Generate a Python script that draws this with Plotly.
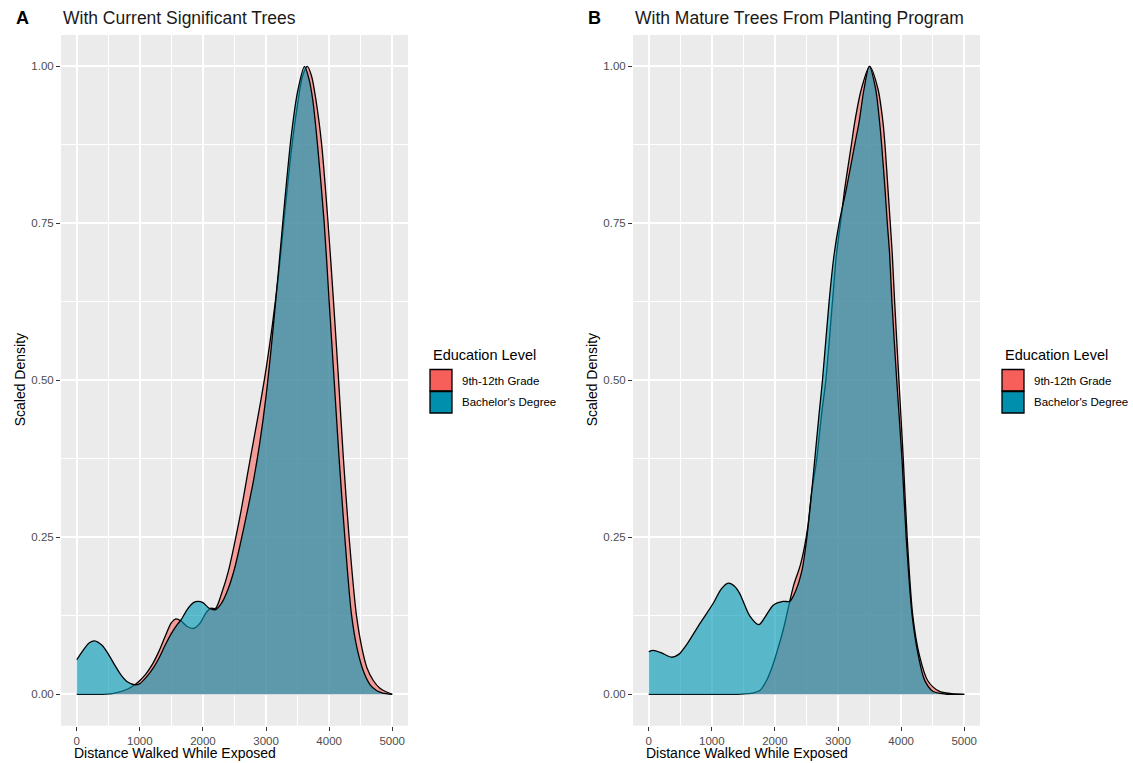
import plotly.graph_objects as go

# ---------------- data ----------------
GROUPS = ["9th-12th Grade", "Bachelor's Degree"]
X_TICKS = [0, 1000, 2000, 3000, 4000, 5000]
Y_TICKS = [0.0, 0.25, 0.5, 0.75, 1.0]

# Panel A: With Current Significant Trees
A_red_x = [0, 200, 400, 600, 800, 930, 1000, 1100, 1200, 1300, 1400, 1500, 1570, 1650, 1750,
           1850, 1950, 2050, 2120, 2200, 2300, 2400, 2500, 2600, 2700, 2800, 2900, 3000,
           3100, 3200, 3300, 3400, 3500, 3580, 3655, 3720, 3790, 3880, 3980, 4070, 4150,
           4225, 4315, 4430, 4525, 4600, 4700, 4800, 4900, 5000]
A_red_y = [0.0, 0.0, 0.0, 0.002, 0.008, 0.016, 0.022, 0.033, 0.048, 0.068, 0.092, 0.114, 0.12,
           0.117, 0.108, 0.105, 0.113, 0.13, 0.137, 0.137, 0.162, 0.195, 0.24, 0.29, 0.347,
           0.403, 0.458, 0.518, 0.588, 0.67, 0.77, 0.865, 0.94, 0.985, 1.0, 0.985, 0.947,
           0.877, 0.755, 0.625, 0.50, 0.377, 0.252, 0.128, 0.071, 0.042, 0.022, 0.01, 0.004, 0.0]
A_blue_x = [0, 100, 200, 280, 400, 500, 600, 700, 800, 930, 1000, 1100, 1200, 1300, 1400,
            1500, 1600, 1656, 1750, 1850, 1920, 2000, 2100, 2200, 2300, 2400, 2500, 2600,
            2700, 2800, 2900, 3000, 3100, 3200, 3300, 3400, 3500, 3610, 3680, 3740, 3816,
            3921, 4000, 4079, 4158, 4247, 4353, 4447, 4550, 4650, 4750, 4850, 5000]
A_blue_y = [0.055, 0.07, 0.082, 0.085, 0.078, 0.064, 0.047, 0.031, 0.02, 0.015, 0.017, 0.027,
            0.04, 0.057, 0.078, 0.097, 0.112, 0.119, 0.135, 0.146, 0.148, 0.146, 0.137, 0.135,
            0.146, 0.168, 0.2, 0.243, 0.29, 0.34, 0.40, 0.475, 0.57, 0.678, 0.79, 0.89,
            0.96, 1.0, 0.98, 0.947, 0.875, 0.752, 0.626, 0.501, 0.376, 0.252, 0.128, 0.071,
            0.035, 0.015, 0.006, 0.002, 0.0]

# Panel B: With Mature Trees From Planting Program
B_red_x = [0, 500, 1000, 1400, 1550, 1650, 1760, 1866, 1950, 2024, 2129, 2235, 2300, 2400,
           2470, 2525, 2580, 2660, 2740, 2806, 2911, 2974, 3038, 3106, 3211, 3264, 3370,
           3501, 3633, 3712, 3744, 3791, 3828, 3860, 3897, 3965, 4035, 4096, 4185, 4290,
           4420, 4600, 4800, 5000]
B_red_y = [0.0, 0.0, 0.0, 0.0, 0.001, 0.002, 0.006, 0.022, 0.042, 0.065, 0.102, 0.148, 0.175,
           0.205, 0.236, 0.27, 0.32, 0.373, 0.447, 0.5, 0.625, 0.70, 0.75, 0.805, 0.875,
           0.911, 0.964, 1.0, 0.964, 0.911, 0.875, 0.805, 0.75, 0.70, 0.625, 0.5, 0.373,
           0.25, 0.125, 0.062, 0.022, 0.005, 0.001, 0.0]
B_blue_x = [0, 74, 200, 364, 480, 600, 812, 1022, 1150, 1260, 1360, 1444, 1600, 1745, 1850,
            1972, 2130, 2235, 2330, 2430, 2500, 2560, 2630, 2700, 2753, 2858, 2937, 3016,
            3132, 3264, 3333, 3412, 3495, 3596, 3659, 3691, 3744, 3781, 3818, 3854, 3930,
            4015, 4080, 4175, 4264, 4370, 4500, 4700, 5000]
B_blue_y = [0.068, 0.07, 0.066, 0.059, 0.064, 0.079, 0.113, 0.145, 0.168, 0.177, 0.172, 0.16,
            0.125, 0.111, 0.124, 0.142, 0.148, 0.148, 0.165, 0.198, 0.245, 0.30, 0.373, 0.447,
            0.5, 0.625, 0.70, 0.75, 0.805, 0.875, 0.911, 0.964, 1.0, 0.964, 0.911, 0.875,
            0.805, 0.75, 0.70, 0.625, 0.5, 0.373, 0.25, 0.125, 0.066, 0.023, 0.005, 0.0005, 0.0]

PANELS = [
    ("A", "With Current Significant Trees", A_red_x, A_red_y, A_blue_x, A_blue_y),
    ("B", "With Mature Trees From Planting Program", B_red_x, B_red_y, B_blue_x, B_blue_y),
]

# ---------------- styling ----------------
W, H = 1133, 763
FONT = "Liberation Sans, Arial, Helvetica, sans-serif"
RED_FILL = "rgba(248,97,90,0.58)"
BLUE_FILL = "rgba(0,152,182,0.62)"
RED_KEY = "#F7605A"
BLUE_KEY = "#0090AE"
panel_px = [(61, 408), (633, 980)]
top_px, bot_px = 35, 725.7


def px(xp):
    return xp / W


def py(yp):
    return 1 - yp / H


fig = go.Figure()
annotations = []
shapes = []

for i, (letter, title, rx, ry, bx, by) in enumerate(PANELS):
    xa = "x" if i == 0 else "x2"
    ya = "y" if i == 0 else "y2"
    fig.add_trace(go.Scatter(x=rx, y=ry, mode="lines", fill="tozeroy", fillcolor=RED_FILL,
                             line=dict(color="black", width=1.3, shape="spline", smoothing=0.8),
                             name=GROUPS[0], showlegend=False, xaxis=xa, yaxis=ya,
                             hoverinfo="skip"))
    fig.add_trace(go.Scatter(x=bx, y=by, mode="lines", fill="tozeroy", fillcolor=BLUE_FILL,
                             line=dict(color="black", width=1.3, shape="spline", smoothing=0.8),
                             name=GROUPS[1], showlegend=False, xaxis=xa, yaxis=ya,
                             hoverinfo="skip"))
    left, right = panel_px[i]
    # panel letter and title
    annotations.append(dict(text="<b>%s</b>" % letter, x=px(left - 47), y=py(18),
                            xref="paper", yref="paper", xanchor="left", yanchor="middle",
                            showarrow=False, font=dict(family=FONT, size=18, color="black")))
    annotations.append(dict(text=title, x=px(left), y=py(18), xref="paper", yref="paper",
                            xanchor="left", yanchor="middle", showarrow=False,
                            font=dict(family=FONT, size=17.5, color="#1a1a1a")))
    # axis titles
    annotations.append(dict(text="Distance Walked While Exposed", x=px(left + 11), y=py(753),
                            xref="paper", yref="paper", xanchor="left", yanchor="middle",
                            showarrow=False, font=dict(family=FONT, size=14, color="black")))
    annotations.append(dict(text="Scaled Density", x=px(left - 41), y=py((top_px + bot_px) / 2),
                            xref="paper", yref="paper", xanchor="center", yanchor="middle",
                            textangle=-90, showarrow=False,
                            font=dict(family=FONT, size=14, color="black")))
    # legend
    lx = right + 22
    annotations.append(dict(text="Education Level", x=px(lx + 1), y=py(355), xref="paper",
                            yref="paper", xanchor="left", yanchor="middle", showarrow=False,
                            font=dict(family=FONT, size=14.5, color="black")))
    for k, (lab, col) in enumerate(zip(GROUPS, [RED_KEY, BLUE_KEY])):
        y0 = 369.5 + k * 22
        shapes.append(dict(type="rect", xref="paper", yref="paper",
                           x0=px(lx), x1=px(lx + 22), y0=py(y0), y1=py(y0 + 21.5),
                           fillcolor=col, line=dict(color="black", width=1.3)))
        annotations.append(dict(text=lab, x=px(lx + 30), y=py(y0 + 11), xref="paper",
                                yref="paper", xanchor="left", yanchor="middle", showarrow=False,
                                font=dict(family=FONT, size=11.5, color="black")))

axis_common = dict(showgrid=True, gridcolor="white", gridwidth=1.5, zeroline=False,
                   showline=False, ticks="outside", ticklen=4, tickwidth=1,
                   tickcolor="#333333", tickfont=dict(family=FONT, size=11.5, color="#4D4D4D"))
for i in range(2):
    left, right = panel_px[i]
    sfx = "" if i == 0 else "2"
    fig.layout["xaxis" + sfx] = dict(
        domain=[px(left), px(right)], range=[-250, 5250], tickvals=X_TICKS,
        ticktext=[str(v) for v in X_TICKS], anchor="y" + sfx,
        minor=dict(dtick=500, tick0=0, showgrid=True, gridcolor="white", gridwidth=0.8),
        **axis_common)
    fig.layout["yaxis" + sfx] = dict(
        domain=[py(bot_px), py(top_px)], range=[-0.05, 1.05], tickvals=Y_TICKS,
        ticktext=["%.2f" % v for v in Y_TICKS], anchor="x" + sfx,
        minor=dict(dtick=0.125, tick0=0, showgrid=True, gridcolor="white", gridwidth=0.8),
        **axis_common)

fig.update_layout(width=W, height=H, margin=dict(l=0, r=0, t=0, b=0),
                  paper_bgcolor="white", plot_bgcolor="#EBEBEB",
                  annotations=annotations, shapes=shapes, showlegend=False,
                  font=dict(family=FONT))

fig.write_html("out.html", config={"displayModeBar": False},
               post_script="document.body.style.margin='0';"
                           "document.body.style.overflow='hidden';")
